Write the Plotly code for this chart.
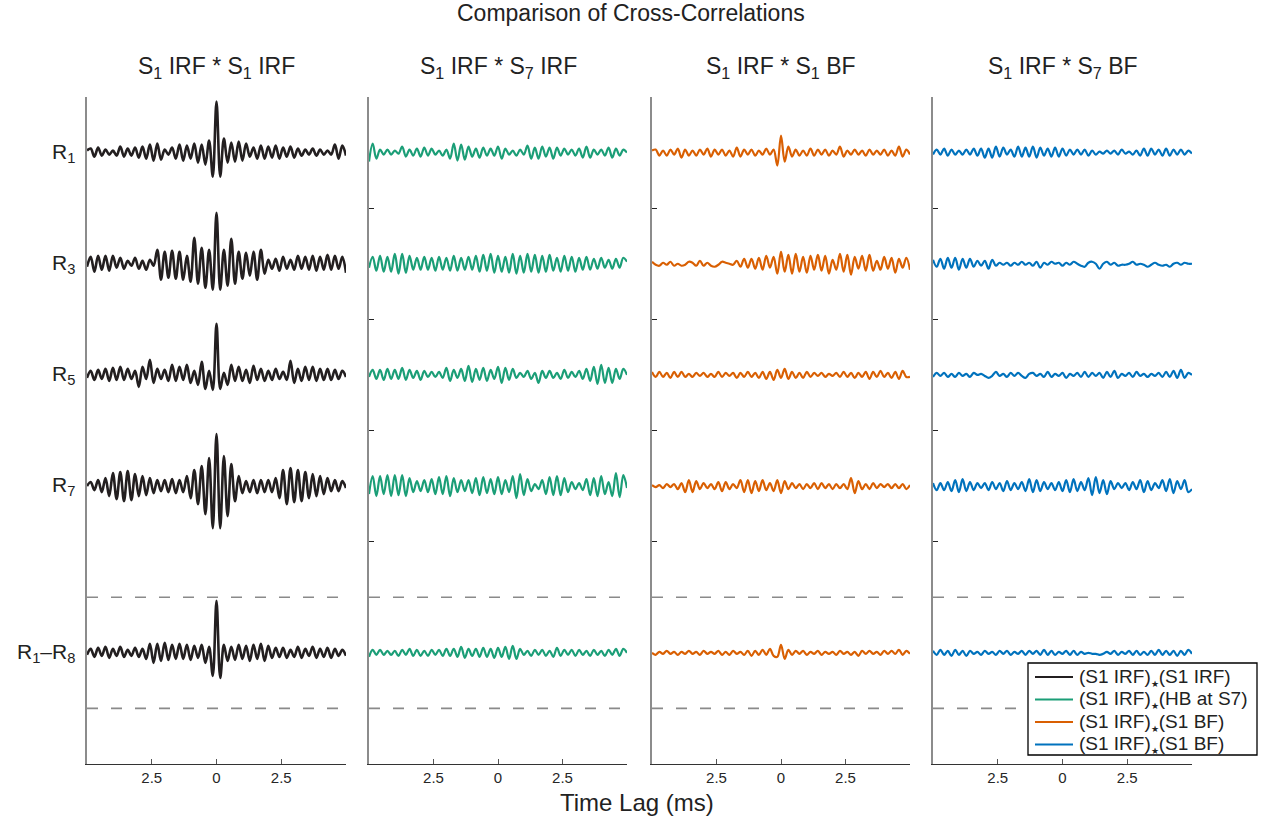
import numpy as np
import plotly.graph_objects as go

# ---------------- data (amplitudes, in 0.009-unit steps) -------------
time_range = [-5.0, 5.0]
xtick_vals = [-2.5, 0, 2.5]
xtick_text = ["2.5", "0", "2.5"]
row_labels = ["R<sub>1</sub>", "R<sub>3</sub>", "R<sub>5</sub>", "R<sub>7</sub>", "R<sub>1</sub>\u2013R<sub>8</sub>"]
row_offsets = [1, 2, 3, 4, 5.5]
panel_titles = ["S<sub>1</sub> IRF * S<sub>1</sub> IRF", "S<sub>1</sub> IRF * S<sub>7</sub> IRF",
                "S<sub>1</sub> IRF * S<sub>1</sub> BF", "S<sub>1</sub> IRF * S<sub>7</sub> BF"]
STAR = '<sub><span style="font-size:9px">\u2605</span></sub>'
legend_names = ["(S1 IRF)" + STAR + "(S1 IRF)", "(S1 IRF)" + STAR + "(HB at S7)",
                "(S1 IRF)" + STAR + "(S1 BF)", "(S1 IRF)" + STAR + "(S1 BF)"]
colors = ["#231f20", "#1b9e77", "#d95f02", "#0072bd"]

# panel 1: S1 IRF * S1 IRF
irf1_r1 = [2, 4, -4, 5, -3, 3, -2, 2, -3, 6, -4, 4, -3, 5, -5, 6, -6, 8, -8, 9, -7, 3, -2, 5, -6, 8, -8, 7, -6, 9,
           -10, 8, -12, 12, -24, 51, -24, 14, -10, 10, -9, 11, -8, 9, -4, 5, -6, 7, -6, 6, -5, 7, -6, 5, -4, 6, -5, 4,
           -3, 3, -2, 4, -3, 3, -2, 2, -2, 8, -6, 7, -3]
irf1_r3 = [-3, 7, -8, 8, -6, 8, -7, 8, -4, 6, -5, 3, -2, 6, -5, 3, -6, 4, -2, 14, -16, 12, -14, 13, -15, 12, -16, 8,
           -18, 26, -20, 16, -24, 14, -26, 51, -26, 14, -22, 25, -20, 12, -15, 11, -12, 12, -16, 14, -10, 4, -5, 5, -7,
           7, -5, 4, -6, 8, -5, 7, -6, 8, -7, 7, -6, 9, -6, 8, -5, 7, -9]
irf1_r5 = [-3, 4, -5, 5, -4, 6, -6, 7, -5, 8, -5, 6, -4, 4, -12, 8, -4, 15, -8, 6, -4, 5, -6, 10, -6, 8, -5, 10, -8,
           4, -10, 13, -14, 4, -15, 51, -14, 2, -10, 10, -6, 8, -6, 5, -8, 9, -5, 6, -6, 4, -5, 6, -4, 3, -5, 14, -8, 6,
           -6, 8, -5, 8, -6, 6, -5, 6, -5, 5, -4, 4, -2]
irf1_r7 = [0, 4, -4, 6, -6, 8, -10, 13, -13, 14, -15, 15, -14, 12, -10, 10, -9, 8, -7, 6, -5, 6, -6, 7, -7, 6, -6,
           10, -12, 16, -18, 20, -28, 28, -42, 52, -42, 30, -30, 22, -15, 10, -7, 5, -6, 6, -7, 6, -6, 6, -6, 8, -12,
           16, -18, 18, -16, 16, -15, 14, -12, 12, -10, 10, -8, 8, -5, 6, -5, 5, -2]
irf1_r18 = [-2, 4, -4, 5, -3, 6, -5, 4, -3, 6, -4, 3, -3, 5, -4, 4, -6, 9, -10, 9, -8, 10, -7, 8, -6, 9, -6, 8, -7,
            7, -5, 8, -10, 6, -23, 52, -25, 8, -8, 6, -7, 8, -6, 7, -8, 8, -6, 9, -8, 7, -5, 5, -4, 5, -5, 3, -4, 6,
            -5, 4, -3, 6, -5, 4, -4, 5, -5, 4, -3, 3, -3]

# panel 2: S1 IRF * S7 IRF
irf7_r1 = [-9, 9, -6, 3, -2, 3, -2, 2, -1, 6, -4, 3, -3, 4, -4, 5, -3, 4, -2, 2, -3, 3, -6, 9, -8, 8, -7, 6, -4, 4,
           -5, 5, -3, 4, -3, 6, -6, 4, -2, 2, -3, 3, -2, 7, -6, 5, -6, 6, -4, 5, -6, 5, -3, 4, -2, 3, -3, 4, -5, 6, -5,
           3, -2, 3, -3, 5, -5, 4, -3, 3, 0]
irf7_r3 = [-4, 7, -7, 8, -8, 7, -8, 10, -10, 10, -9, 8, -6, 6, -6, 7, -6, 6, -7, 7, -6, 6, -7, 8, -7, 6, -6, 7, -6,
           8, -8, 9, -7, 10, -9, 8, -8, 7, -9, 10, -10, 8, -9, 10, -8, 9, -9, 8, -8, 9, -7, 6, -8, 8, -7, 7, -8, 6,
           -6, 7, -6, 5, -5, 6, -4, 4, -5, 5, -4, 6, 2]
irf7_r5 = [-2, 5, -4, 5, -5, 6, -4, 5, -4, 7, -5, 5, -3, 4, -5, 4, -2, 3, -2, 3, -3, 7, -6, 5, -3, 6, -6, 9, -7, 6,
           -5, 7, -6, 5, -4, 8, -8, 7, -5, 6, -3, 2, -2, 4, -4, 2, -8, 4, -3, 4, -3, 2, -4, 5, -3, 3, -2, 4, -4, 6, -6,
           8, -9, 10, -8, 7, -8, 6, -4, 6, 0]
irf7_r7 = [-8, 10, -10, 10, -8, 11, -10, 11, -9, 11, -10, 8, -6, 5, -5, 6, -6, 7, -8, 9, -8, 10, -10, 8, -6, 6, -5,
           6, -7, 8, -9, 9, -7, 7, -8, 9, -8, 6, -6, 10, -12, 12, -9, 7, -5, 2, -3, 6, -8, 9, -9, 10, -9, 8, -6, 4,
           -3, 3, -4, 7, -9, 8, -10, 10, -8, 4, -10, 13, -11, 11, -2]
irf7_r18 = [-4, 3, -2, 3, -2, 2, -2, 2, -3, 3, -2, 4, -3, 3, -3, 2, -3, 3, -2, 3, -3, 4, -3, 4, -4, 6, -5, 4, -3, 4,
            -4, 5, -4, 4, -5, 5, -4, 6, -6, 7, -6, 4, -2, 2, -3, 3, -2, 3, -3, 2, -4, 5, -3, 3, -2, 3, -3, 3, -2, 2,
            -3, 3, -2, 2, -3, 3, -2, 4, -3, 4, 0]

# panel 3: S1 IRF * S1 BF
bf1_r1 = [2, 3, -3, 2, -3, 3, -2, 4, -5, 3, -3, 2, -3, 3, -2, 4, -4, 3, -2, 3, -3, 2, -4, 5, -4, 3, -2, 3, -3, 2, -2,
          4, -2, 3, -13, 17, -9, 6, -4, 3, -3, 2, -3, 4, -3, 3, -2, 3, -3, 2, -2, 6, -4, 2, -2, 3, -2, 2, -3, 3, -2, 2,
          -2, 3, -3, 2, -3, 6, -4, 3, -2]
bf1_r3 = [2, -1, -2, 1, -1, 2, -2, 0, -2, -1, 2, 1, -2, 3, -2, 1, -2, -3, -1, 2, 1, 0, -1, 3, -3, 5, -4, 5, -5, 6,
          -6, 8, -4, 7, -10, 12, -8, 9, -10, 10, -8, 7, -9, 8, -6, 9, -7, 8, -10, 4, -6, 10, -8, 9, -11, 7, -5, 8, -7,
          9, -7, 3, -6, 7, -5, 6, -9, 5, -4, 6, -6]
bf1_r5 = [3, -2, 3, -2, 2, -3, 3, -2, 3, -2, 1, -2, 2, -1, 2, -2, 1, -2, 3, -2, 2, -1, 2, -3, 2, -2, 3, -2, 2, -3, 3,
          -4, 3, -5, 5, -3, 6, -4, 3, -3, 2, -3, 3, -2, 2, -1, 2, -2, 1, -1, 2, -2, 3, -2, 2, -3, 2, -2, 3, -4, 3, -2,
          4, -2, 2, -3, 3, -4, 4, -2, -2]
bf1_r7 = [1, -1, 1, -2, 2, -1, 2, -3, 3, -6, 6, -6, 5, -3, 3, -2, 2, -3, 4, -5, 4, -3, 2, -2, 6, -6, 6, -7, 5, -5, 6,
          -4, 3, -5, 6, -7, 5, -3, 3, -2, 2, -3, 2, -2, 3, -3, 3, -2, 2, -3, 2, -2, 2, -3, 8, -7, 5, -3, 2, -3, 3, -2,
          2, -1, 2, -2, 2, -2, 2, -3, 1]
bf1_r18 = [0, -2, 1, -1, 2, -1, 1, -2, 1, -1, 2, -1, 1, -2, 2, -1, 1, -1, 2, -2, 1, -2, 2, -1, 1, -2, 2, -3, 2, -2,
           3, -2, 4, -3, -4, 8, -6, 3, -2, 2, -1, 2, -2, 1, -1, 2, -2, 1, -1, 1, -2, 2, -1, 1, -2, 1, -3, 2, -1, 2, -1,
           1, -2, 2, -1, 2, -1, 3, -2, 2, -1]

# panel 4: S1 IRF * S7 BF
bf7_r1 = [-2, 3, -2, 4, -3, 3, -2, 2, -2, 3, -2, 4, -3, 4, -5, 4, -5, 6, -4, 5, -2, 3, -4, 6, -4, 5, -4, 6, -5, 5,
          -3, 4, -4, 5, -4, 4, -3, 3, -2, 3, -2, 3, -3, 2, -2, 1, -1, 2, -1, 2, -2, 3, -1, 1, -2, 2, -3, 4, -3, 4, -2,
          3, -3, 4, -3, 3, -2, 3, -2, 2, -1]
bf7_r3 = [4, -3, 5, -5, 6, -4, 6, -6, 5, -4, 5, -3, 3, -2, 3, -5, 4, -2, 1, -1, 1, -2, 1, -1, 2, -1, 1, -2, 2, -4, 1,
          -1, 2, 0, 1, -2, 1, -1, 2, 0, -2, -3, 1, 2, 0, -5, 0, 2, -1, 1, -2, -1, -1, 0, 2, -1, 0, -1, -3, -1, 1, -1,
          -2, -1, -3, 0, 1, -1, 1, 0, 0]
bf7_r5 = [-2, 2, -1, 2, -2, 1, -2, 2, -1, 1, -2, 2, 0, 1, -1, -3, -1, 3, -1, 1, -2, 2, -1, 2, -1, -3, 1, 2, -1, 1,
          -2, 3, -2, 1, -1, 2, -3, 1, -1, 2, -2, 3, -2, 2, -1, 2, -3, 3, -2, 4, -3, 1, -1, 2, -2, 3, -1, 1, -2, 1, -1,
          2, -2, 3, -2, 4, -3, 5, -3, 2, 0]
bf7_r7 = [3, -4, 3, -4, 4, -5, 6, -6, 7, -5, 4, -4, 3, -2, 3, -4, 4, -3, 3, -5, 5, -4, 3, -3, 4, -5, 7, -6, 6, -5, 4,
          -3, 3, -4, 4, -5, 6, -6, 7, -5, 4, -4, 8, -9, 9, -7, 6, -8, 5, -3, 3, -2, 3, -4, 4, -3, 6, -6, 5, -4, 3, -2,
          6, -5, 7, -7, 5, -3, 6, -6, -3]
bf7_r18 = [2, -2, 3, -2, 2, -3, 3, -2, 2, -3, 2, -1, 1, -2, 2, -1, 1, -2, 2, -1, 2, -2, 1, -1, 2, -2, 2, -1, 2, -2,
           3, -2, 2, -2, 1, -1, 2, -2, 2, -2, 1, -1, 0, -1, -1, -2, -1, 1, -1, 2, -2, 1, -1, 2, -2, 2, -2, 1, -2, 2,
           -2, 3, -2, 2, -2, 2, -3, 2, -2, 3, -1]

panels = [
    [irf1_r1, irf1_r3, irf1_r5, irf1_r7, irf1_r18],
    [irf7_r1, irf7_r3, irf7_r5, irf7_r7, irf7_r18],
    [bf1_r1, bf1_r3, bf1_r5, bf1_r7, bf1_r18],
    [bf7_r1, bf7_r3, bf7_r5, bf7_r7, bf7_r18],
]
AMP_UNIT = 0.009  # conversion of stored amplitudes to row units

# ---------------- layout geometry -------------
W, H = 1262, 820
panel_px = [(87, 346), (369, 627), (652, 910), (933, 1192)]
plot_top, plot_bottom = 97, 764
FONT = "Liberation Sans, Arial, Helvetica, sans-serif"
TXT = "#222222"

fig = go.Figure()
line_widths = [2.6, 2.2, 2.2, 2.2]

for p, rows in enumerate(panels):
    xa = "x" if p == 0 else f"x{p + 1}"
    ya = "y" if p == 0 else f"y{p + 1}"
    for r, vals in enumerate(rows):
        v = np.array(vals, dtype=float)
        t = np.linspace(time_range[0], time_range[1], len(v))
        fig.add_trace(go.Scatter(
            x=t, y=-row_offsets[r] + v * AMP_UNIT, mode="lines",
            line=dict(color=colors[p], width=line_widths[p], shape="spline", smoothing=1.0),
            xaxis=xa, yaxis=ya, name=legend_names[p], showlegend=False, hoverinfo="skip"))
    # dashed separator lines around the summed row
    for yd in (-5, -6):
        fig.add_shape(type="line", xref=xa, yref=ya, x0=-5, x1=4.85, y0=yd, y1=yd,
                      line=dict(color="#8a8a8a", width=1.6, dash="11px,13px"), layer="below")

layout = dict(
    width=W, height=H, margin=dict(l=0, r=0, t=0, b=0),
    plot_bgcolor="white", paper_bgcolor="white",
    font=dict(family=FONT, color=TXT),
    showlegend=False,
)
for p, (a, b) in enumerate(panel_px):
    sx = "" if p == 0 else str(p + 1)
    layout[f"xaxis{sx}"] = dict(
        domain=[a / W, b / W], range=time_range, showgrid=False, zeroline=False,
        showline=True, linecolor="#333333", linewidth=1.2,
        ticks="inside", ticklen=5, tickcolor="#555555", tickwidth=1,
        tickvals=xtick_vals, ticktext=xtick_text,
        tickfont=dict(family=FONT, size=15, color="#262626"),
        anchor="y" if p == 0 else f"y{p + 1}", fixedrange=True)
    layout[f"yaxis{sx}"] = dict(
        domain=[1 - plot_bottom / H, 1 - plot_top / H], range=[-6.5, -0.5],
        showgrid=False, zeroline=False, showline=True, linecolor="#8c8c8c", linewidth=1.6,
        ticks="" if p == 0 else "inside", ticklen=5, tickcolor="#222222", tickwidth=1,
        tickvals=[-0.5, -1.5, -2.5, -3.5, -4.5], showticklabels=False,
        anchor="x" if p == 0 else f"x{p + 1}", fixedrange=True)
fig.update_layout(**layout)

# ---- legend box drawn in the lower right corner ----
leg_x0, leg_x1, leg_y0, leg_y1 = 1028, 1257, 663, 755
leg_rows = [677, 699.5, 722, 744.5]
fig.add_shape(type="rect", xref="paper", yref="paper",
              x0=leg_x0 / W, x1=leg_x1 / W, y0=1 - leg_y1 / H, y1=1 - leg_y0 / H,
              fillcolor="white", line=dict(color="#000000", width=1.3), layer="above")
annotations = []
for k, yy in enumerate(leg_rows):
    fig.add_shape(type="line", xref="paper", yref="paper",
                  x0=1035 / W, x1=1073 / W, y0=1 - yy / H, y1=1 - yy / H,
                  line=dict(color=colors[k], width=2.2), layer="above")
    annotations.append(dict(text=legend_names[k], x=1077 / W, y=1 - yy / H, xref="paper", yref="paper",
                            showarrow=False, xanchor="left", yanchor="middle",
                            font=dict(family=FONT, size=19, color=TXT)))

annotations += [
    dict(text="Comparison of Cross-Correlations", x=631 / W, y=1 - 13 / H, xref="paper", yref="paper",
         showarrow=False, xanchor="center", yanchor="middle", font=dict(family=FONT, size=23, color=TXT)),
    dict(text="Time Lag (ms)", x=637 / W, y=1 - 802 / H, xref="paper", yref="paper",
         showarrow=False, xanchor="center", yanchor="middle", font=dict(family=FONT, size=24, color=TXT)),
]
for p, (a, b) in enumerate(panel_px):
    annotations.append(dict(text=panel_titles[p], x=(a + b) / 2 / W, y=1 - 68 / H, xref="paper", yref="paper",
                            showarrow=False, xanchor="center", yanchor="middle",
                            font=dict(family=FONT, size=23, color=TXT)))
for r, lab in enumerate(row_labels):
    annotations.append(dict(text=lab, x=77 / W, y=-row_offsets[r], xref="paper", yref="y",
                            showarrow=False, xanchor="right", yanchor="middle",
                            font=dict(family=FONT, size=21, color=TXT)))
fig.update_layout(annotations=annotations)

fig.write_html("out.html")
